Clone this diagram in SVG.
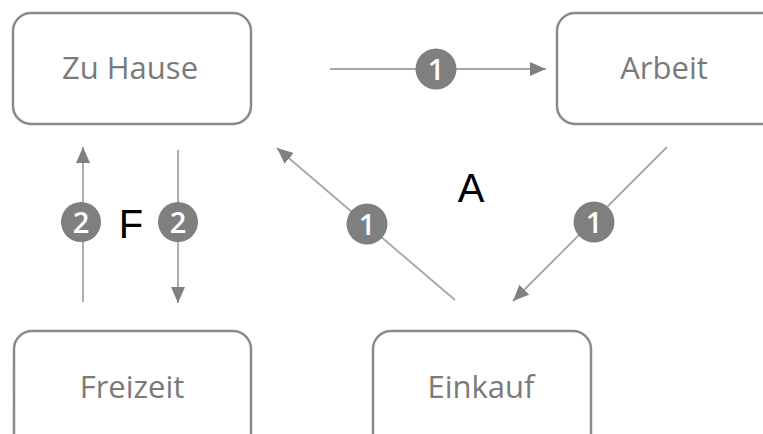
<svg xmlns="http://www.w3.org/2000/svg" width="763" height="434" viewBox="0 0 763 434">
<style>
.box{fill:#fff;stroke:#8a8a8a;stroke-width:2.5}
.lbl{font-family:"Open Sans","Liberation Sans",sans-serif;font-size:31px;font-weight:500;fill:#7a7a7a;text-anchor:middle}
.con{stroke:#a6a6a6;stroke-width:1.8;fill:none}
.badge circle{fill:#7f7f7f}
.badge text{font-family:"Open Sans","Liberation Sans",sans-serif;font-size:29px;font-weight:600;fill:#fff;text-anchor:middle}
.big{font-family:"Liberation Sans",Arial,sans-serif;font-size:40px;fill:#000;text-anchor:middle}
</style>
<defs>
<marker id="ah" viewBox="0 0 16 14" refX="16" refY="7" markerWidth="16" markerHeight="14" markerUnits="userSpaceOnUse" orient="auto">
<path d="M0,0 L16,7 L0,14 Z" fill="#808080"/>
</marker>
</defs>
<rect width="763" height="434" fill="#fff"/>
<g id="zu-hause"><rect class="box" x="13" y="13" width="238" height="111" rx="18"/><text class="lbl" x="130" y="79">Zu Hause</text></g>
<g id="arbeit"><rect class="box" x="557" y="13" width="230" height="111" rx="18"/><text class="lbl" x="664" y="79">Arbeit</text></g>
<g id="freizeit"><rect class="box" x="14" y="331" width="237" height="130" rx="18"/><text class="lbl" x="132" y="398">Freizeit</text></g>
<g id="einkauf"><rect class="box" x="373" y="331" width="218" height="130" rx="18"/><text class="lbl" x="481" y="398">Einkauf</text></g>
<g id="connectors">
<line class="con" x1="330" y1="69" x2="546" y2="69" marker-end="url(#ah)"/>
<line class="con" x1="83" y1="302" x2="83" y2="147" marker-end="url(#ah)"/>
<line class="con" x1="178" y1="150" x2="178" y2="303" marker-end="url(#ah)"/>
<line class="con" x1="455" y1="300" x2="277" y2="148" marker-end="url(#ah)"/>
<line class="con" x1="667" y1="147" x2="513" y2="301" marker-end="url(#ah)"/>
<g class="badge"><circle cx="436" cy="69" r="20.5"/><text x="436" y="79.5">1</text></g>
<g class="badge"><circle cx="81" cy="222" r="20"/><text x="81" y="232.5">2</text></g>
<g class="badge"><circle cx="178" cy="222" r="20"/><text x="178" y="232.5">2</text></g>
<g class="badge"><circle cx="367" cy="224" r="20.5"/><text x="367" y="234.5">1</text></g>
<g class="badge"><circle cx="594" cy="222" r="20.5"/><text x="594" y="232.5">1</text></g>
</g>
<text class="big" x="131" y="238">F</text>
<text class="big" x="471" y="202">A</text>
</svg>
